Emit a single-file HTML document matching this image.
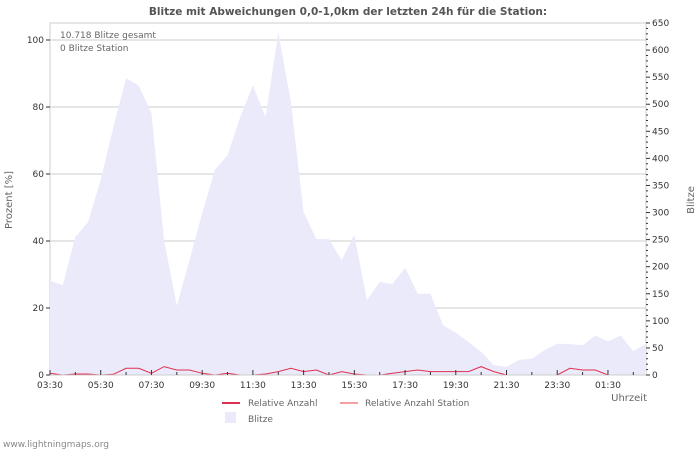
<!DOCTYPE html>
<html><head><meta charset="utf-8"><style>
body{margin:0;background:#fff;font-family:"DejaVu Sans","Liberation Sans",sans-serif}
svg text{font-family:"DejaVu Sans","Liberation Sans",sans-serif}
</style></head><body>
<svg id="chart" width="700" height="450" xmlns="http://www.w3.org/2000/svg">
<text x="348" y="15" text-anchor="middle" font-size="10.5" font-weight="bold" fill="#555">Blitze mit Abweichungen 0,0-1,0km der letzten 24h für die Station:</text>
<rect x="50" y="23" width="596" height="352" fill="none" stroke="#ccc"/>
<g id="grid"></g>
<path id="area" fill="#eaeafb"/>
<polyline id="rel" fill="none" stroke="#e03050" stroke-width="1"/>
<g id="axes"></g>
<text x="60" y="38" font-size="9" fill="#666">10.718 Blitze gesamt</text>
<text x="60" y="51" font-size="9" fill="#666">0 Blitze Station</text>
<text transform="translate(12,200) rotate(-90)" text-anchor="middle" font-size="10" fill="#666">Prozent   [%]</text>
<text transform="translate(694,200) rotate(-90)" text-anchor="middle" font-size="10" fill="#666">Blitze</text>
<text x="647" y="401" text-anchor="end" font-size="10" fill="#666">Uhrzeit</text>
<line x1="222" y1="403" x2="240" y2="403" stroke="#e03050" stroke-width="2"/>
<text x="248" y="406" font-size="9" fill="#666">Relative Anzahl</text>
<line x1="340" y1="403" x2="358" y2="403" stroke="#f4a0a0" stroke-width="2"/>
<text x="365" y="406" font-size="9" fill="#666">Relative Anzahl Station</text>
<rect x="225" y="412" width="11" height="11" fill="#eaeafb"/>
<text x="248" y="422" font-size="9" fill="#666">Blitze</text>
<text x="3" y="447" font-size="9" fill="#888">www.lightningmaps.org</text>
</svg>
<script>
const blitze=[174,166,255,282,360,458,548,534,484,249,128,212,299,379,406,476,535,476,633,504,301,251,251,212,259,138,172,168,198,150,150,92,78,61,43,18,15,28,30,46,58,57,55,73,62,73,44,58];
const relAnzahl=[0.5,0,0.3,0.3,0,0.2,2,2,0.5,2.5,1.5,1.5,0.5,0,0.5,0,0,0.3,1,2,1,1.5,0,1,0.3,0,0,0.5,1,1.5,1,1,1,1,2.5,1,0,0,0,0,0,2,1.5,1.5,0,0,0,0];
const xLabels=["03:30","05:30","07:30","09:30","11:30","13:30","15:30","17:30","19:30","21:30","23:30","01:30"];
const leftTicks=[0,20,40,60,80,100];
const rightTicks=[0,50,100,150,200,250,300,350,400,450,500,550,600,650];
const NS="http://www.w3.org/2000/svg";
const X0=50,X1=646,YB=375;
const xs=i=>X0+i*(X1-X0)/(blitze.length-1);
const yl=v=>YB-v*3.35;
const yr=v=>YB-v*352/650;
function mk(tag,at,parent){const e=document.createElementNS(NS,tag);for(const k in at)e.setAttribute(k,at[k]);parent.appendChild(e);return e;}
const grid=document.getElementById('grid'),axes=document.getElementById('axes');
leftTicks.forEach(v=>{const y=yl(v);
 if(v>0){const g=mk('line',{x1:X0,x2:X1,y1:y,y2:y,stroke:'#ccc'},grid);
 
 }
 mk('line',{x1:X0-4,x2:X0,y1:y,y2:y,stroke:'#333'},axes);
 const t=mk('text',{x:X0-6,y:y+3,'text-anchor':'end','font-size':9,fill:'#333'},axes);t.textContent=v;
 
 });
for(let v=0;v<=650;v+=10){const y=yr(v);const maj=v%50===0;
 mk('line',{x1:X1,x2:X1+(maj?4:2),y1:y,y2:y,stroke:'#333'},axes);}
rightTicks.forEach(v=>{const t=mk('text',{x:X1+6,y:yr(v)+3,'font-size':9,fill:'#333'},axes);t.textContent=v;
 
 });
let d='M'+X0+','+YB;blitze.forEach((v,i)=>d+=' L'+xs(i).toFixed(1)+','+yr(v).toFixed(1));d+=' L'+X1+','+YB+' Z';
document.getElementById('area').setAttribute('d',d);
document.getElementById('rel').setAttribute('points',relAnzahl.map((v,i)=>xs(i).toFixed(1)+','+yl(v).toFixed(1)).join(' '));
mk('line',{x1:X0,x2:X1,y1:YB,y2:YB,stroke:'#ccc'},axes);
for(let h=0;h<=23;h++){const x=X0+h*2*(X1-X0)/(blitze.length-1);
 mk('line',{x1:x,x2:x,y1:YB,y2:YB-(h%2===0?5:3),stroke:'#333'},axes);}
xLabels.forEach((s,i)=>{const t=mk('text',{x:X0+i*4*(X1-X0)/(blitze.length-1),y:388,'text-anchor':'middle','font-size':9,fill:'#333'},axes);t.textContent=s;
 
 });
</script>
</body></html>
